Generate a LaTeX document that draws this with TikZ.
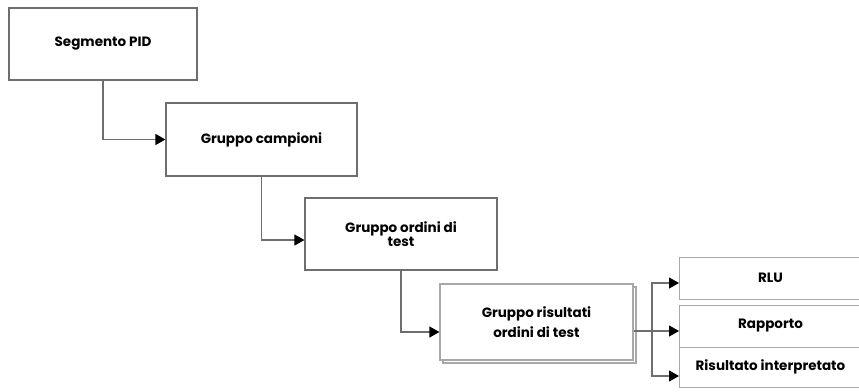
\documentclass[tikz,border=0pt]{standalone}
\usepackage{fontspec}
\setmainfont{Poppins}
\usepackage{tikz}
\usepackage{xcolor}
\usetikzlibrary{arrows.meta, positioning, calc, shadows}

\definecolor{linegray}{HTML}{6E6E6E}
\definecolor{shadegray}{HTML}{A8A8A8}

\tikzset{
    stagebox/.style={draw=linegray, line width=1.2pt, fill=white, align=center,
        font=\bfseries\fontsize{13.5}{15}\selectfont, inner sep=2pt},
    outbox/.style={draw=shadegray, line width=1pt, fill=white, anchor=west,
        minimum width=182pt, font=\bfseries\fontsize{13.5}{15}\selectfont},
    link/.style={draw=linegray, line width=1.2pt, -{Triangle[length=10pt, width=11pt, color=black]}},
    plainlink/.style={draw=linegray, line width=1.2pt}
}

\begin{document}
\begin{tikzpicture}[x=1pt, y=-1pt]
    \clip (0,0) rectangle (859,391);
    % =========================================================
    % MESSAGE SEGMENTS (CASCADE)
    % =========================================================
    \node[stagebox, minimum width=188pt, minimum height=72pt] (seg) at (103,44) {Segmento PID};
    \node[stagebox, minimum width=191pt, minimum height=73pt] (camp) at (261.5,139.5) {Gruppo campioni};
    \node[stagebox, minimum width=192pt, minimum height=72pt,
          font=\bfseries\fontsize{13.5}{14}\selectfont] (ord) at (401,234) {Gruppo ordini di\\test};
    \node[stagebox, minimum width=193pt, minimum height=76pt, draw=shadegray,
          font=\bfseries\fontsize{13.5}{20}\selectfont,
          copy shadow={shadow xshift=3pt, shadow yshift=-3pt, draw=shadegray, fill=white}] (ris) at (536.5,322) {Gruppo risultati\\ordini di test};

    % =========================================================
    % RESULT FIELDS
    % =========================================================
    \node[outbox, minimum height=42pt] (rlu) at (679,278) {RLU};
    \node[outbox, minimum height=42pt] (rap) at (679,326) {Rapporto};
    \node[outbox, minimum height=40pt] (int) at (679,367) {Risultato interpretato};

    % =========================================================
    % CONNECTORS
    % =========================================================
    \draw[link] (seg.south) |- (camp.west);
    \draw[link] (camp.south) |- ([yshift=-6pt]ord.west);
    \draw[link] (ord.south) |- ([yshift=-10pt]ris.west);

    \coordinate (split) at (652,331);
    \draw[plainlink] ([yshift=-9pt]ris.east) -- (split);
    \draw[link] (split) -- (rap.west |- split);
    \draw[link] (split) |- ([yshift=-5pt]rlu.west);
    \draw[link] (split) |- ([yshift=-9pt]int.west);
\end{tikzpicture}
\end{document}
